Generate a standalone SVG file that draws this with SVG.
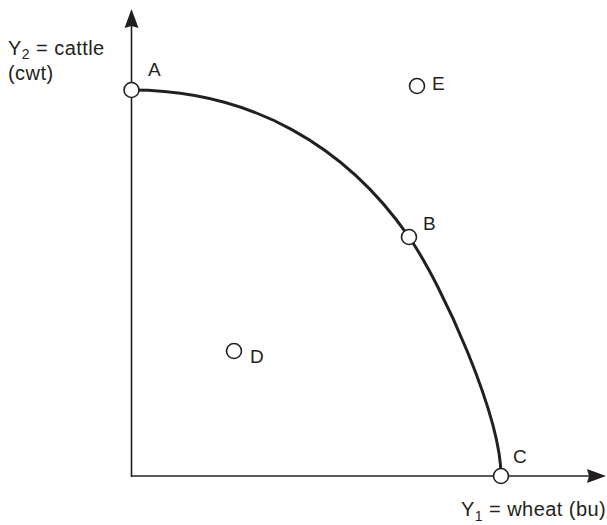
<svg xmlns="http://www.w3.org/2000/svg" width="607" height="525" viewBox="0 0 607 525">
<style>
text{font-family:"Liberation Sans",Arial,sans-serif;font-size:19px;fill:#231f20}
.lbl{font-size:20px;letter-spacing:0.45px}
.axis{stroke:#231f20;stroke-width:1.6;fill:none}
.curve{stroke:#231f20;stroke-width:3;fill:none}
.pt{fill:#fff;stroke:#231f20;stroke-width:1.6}
.ah{fill:#231f20}
</style>
<g id="connectors">
<line class="axis" x1="131.5" y1="477" x2="131.5" y2="24"/>
<polygon class="ah" points="131.5,9 124.5,28 131.5,26 138.5,28"/>
<line class="axis" x1="131" y1="476" x2="592" y2="476"/>
<polygon class="ah" points="606,476 587,469 589,476 587,483"/>
<path id="ppf" class="curve" d="M131.5,90 C251.5,90 346.5,146.5 409,237 C443,286.4 501,416 501,476"/>
</g>
<g id="axis-y-label"><text class="lbl" x="8" y="55">Y<tspan font-size="14" dy="4">2</tspan><tspan dy="-4"> = cattle</tspan></text><text class="lbl" x="8" y="80">(cwt)</text></g>
<g id="axis-x-label"><text class="lbl" x="461" y="516">Y<tspan font-size="14" dy="5">1</tspan><tspan dy="-5"> = wheat (bu)</tspan></text></g>
<g id="A"><circle class="pt" cx="131.5" cy="90" r="7.5"/><text x="148" y="76">A</text></g>
<g id="B"><circle class="pt" cx="409" cy="237" r="7.5"/><text x="423" y="230">B</text></g>
<g id="C"><circle class="pt" cx="501" cy="476" r="7.5"/><text x="513" y="463">C</text></g>
<g id="D"><circle class="pt" cx="234" cy="351" r="7.5"/><text x="250" y="363">D</text></g>
<g id="E"><circle class="pt" cx="417" cy="86" r="7.5"/><text x="432" y="90">E</text></g>
</svg>
